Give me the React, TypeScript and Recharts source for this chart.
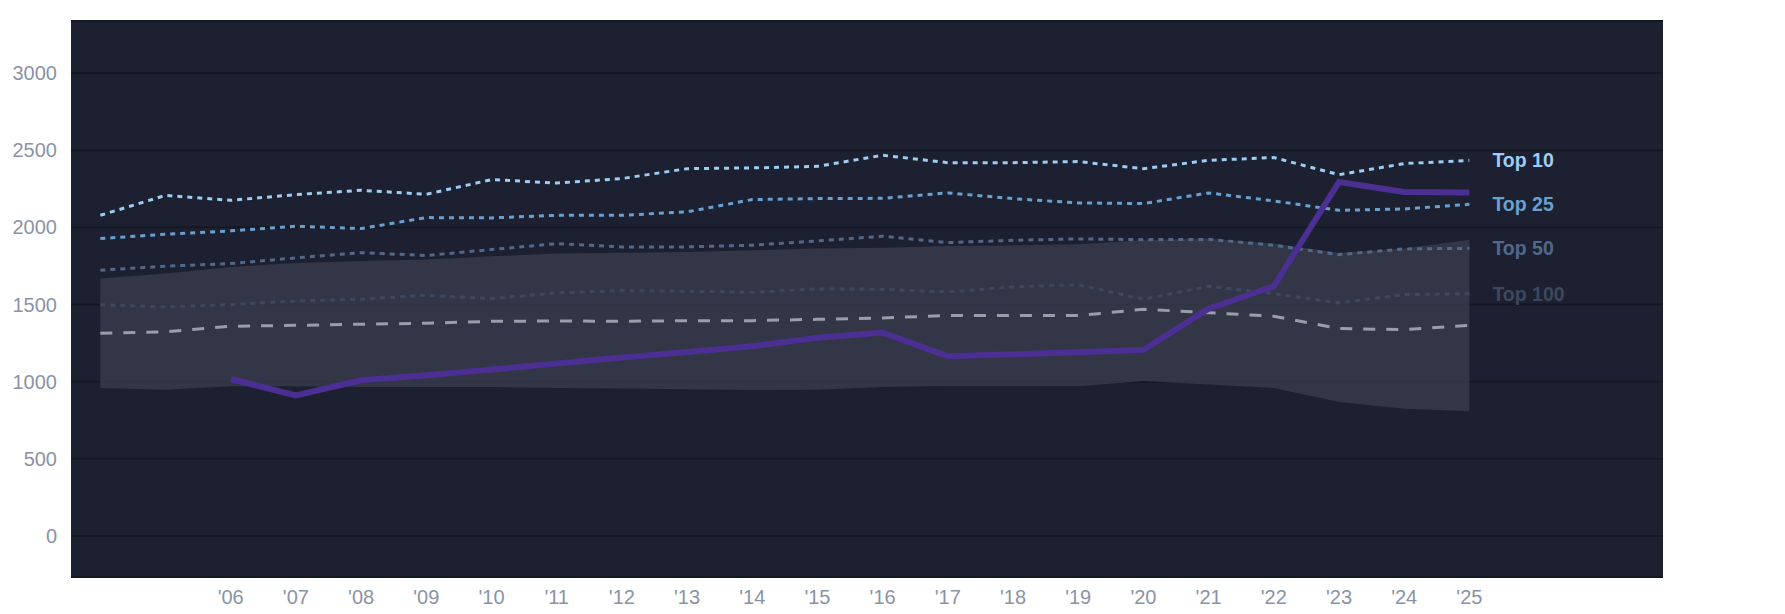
import {
  Area,
  CartesianGrid,
  ComposedChart,
  Line,
  XAxis,
  YAxis,
} from "recharts";

const YEARS = [
  2004, 2005, 2006, 2007, 2008, 2009, 2010, 2011, 2012, 2013, 2014, 2015,
  2016, 2017, 2018, 2019, 2020, 2021, 2022, 2023, 2024, 2025,
];

const TOP10 = [
  2078, 2207, 2175, 2212, 2240, 2214, 2309, 2287, 2316, 2380, 2385, 2395,
  2467, 2419, 2419, 2426, 2380, 2434, 2452, 2341, 2413, 2434,
];
const TOP25 = [
  1927, 1955, 1977, 2007, 1992, 2063, 2061, 2078, 2078, 2100, 2180, 2186,
  2188, 2223, 2186, 2158, 2154, 2223, 2171, 2110, 2119, 2149,
];
const TOP50 = [
  1722, 1748, 1765, 1802, 1836, 1817, 1856, 1894, 1873, 1873, 1884, 1912,
  1942, 1901, 1916, 1925, 1920, 1922, 1884, 1823, 1860, 1864,
];
const TOP100 = [
  1499, 1484, 1499, 1523, 1534, 1560, 1538, 1575, 1590, 1586, 1579, 1601,
  1599, 1581, 1614, 1628, 1534, 1618, 1570, 1510, 1564, 1570,
];
const MEDIAN = [
  1313, 1322, 1359, 1365, 1372, 1378, 1391, 1393, 1391, 1395, 1395, 1404,
  1413, 1428, 1428, 1428, 1469, 1447, 1424, 1344, 1337, 1365,
];
const TEAM = [
  null, null, 1017, 911, 1009, 1041, 1078, 1117, 1156, 1192, 1229, 1285,
  1318, 1164, 1177, 1190, 1207, 1473, 1618, 2294, 2229, 2225,
];
const BAND_HIGH = [
  1668, 1700, 1743, 1769, 1782, 1791, 1812, 1830, 1835, 1840, 1851, 1862,
  1868, 1879, 1883, 1890, 1916, 1927, 1895, 1835, 1862, 1920,
];
const BAND_LOW = [
  959, 948, 970, 970, 966, 966, 966, 959, 955, 950, 946, 948, 966, 972, 972,
  970, 1004, 981, 959, 868, 825, 808,
];

const X_TICKS = YEARS.filter((y) => y >= 2006);
const Y_TICKS = [0, 500, 1000, 1500, 2000, 2500, 3000];

const data = YEARS.map((year, i) => ({
  year,
  band: [BAND_LOW[i], BAND_HIGH[i]],
  top10: TOP10[i],
  top25: TOP25[i],
  top50: TOP50[i],
  top100: TOP100[i],
  median: MEDIAN[i],
  team: TEAM[i],
}));

const FONT = "'Liberation Sans', Arial, Helvetica, sans-serif";
const TICK_STYLE = { fill: "#8a93a6", fontSize: 20, fontFamily: FONT };

const C_TOP10 = "#9dcdf2";
const C_TOP25 = "#6aa0cf";
const C_TOP50 = "#516889";
const C_TOP100 = "#3d485e";

function endLabel(text: string, color: string) {
  const last = YEARS.length - 1;
  return (props: any) => {
    if (props.index !== last) return null;
    return (
      <text
        x={Number(props.x) + 23}
        y={Number(props.y)}
        dy="0.35em"
        fill={color}
        fontSize={19.5}
        fontWeight="bold"
        fontFamily={FONT}
      >
        {text}
      </text>
    );
  };
}

export default function App() {
  return (
    <div style={{ width: 1769, height: 604, fontFamily: FONT }}>
      <ComposedChart
        width={1769}
        height={604}
        data={data}
        margin={{ top: 13, right: 114, bottom: 6, left: 0 }}
      >
        <CartesianGrid
          vertical={false}
          fill="#1c2030"
          fillOpacity={1}
          stroke="#141823"
          strokeWidth={2}
        />
        <XAxis
          type="number"
          dataKey="year"
          domain={[2003.55, 2027.97]}
          ticks={X_TICKS}
          interval={0}
          allowDataOverflow
          axisLine={false}
          tickLine={false}
          tickMargin={7}
          height={29}
          tick={TICK_STYLE}
          tickFormatter={(y: number) => "'" + String(y).slice(2)}
        />
        <YAxis
          type="number"
          domain={[-266, 3337]}
          ticks={Y_TICKS}
          allowDataOverflow
          axisLine={false}
          tickLine={false}
          tickMargin={8}
          width={63}
          tick={TICK_STYLE}
        />
        <Area
          dataKey="band"
          type="linear"
          stroke="none"
          fill="#383c4e"
          fillOpacity={0.8}
          isAnimationActive={false}
        />
        <Line
          dataKey="median"
          type="linear"
          stroke="#9a9ea8"
          strokeWidth={3}
          strokeDasharray="12 11"
          dot={false}
          isAnimationActive={false}
        />
        <Line
          dataKey="top100"
          type="linear"
          stroke={C_TOP100}
          strokeWidth={3}
          strokeDasharray="5 5"
          dot={false}
          label={endLabel("Top 100", C_TOP100)}
          isAnimationActive={false}
        />
        <Line
          dataKey="top50"
          type="linear"
          stroke={C_TOP50}
          strokeWidth={3}
          strokeDasharray="5 5"
          dot={false}
          label={endLabel("Top 50", C_TOP50)}
          isAnimationActive={false}
        />
        <Line
          dataKey="top25"
          type="linear"
          stroke={C_TOP25}
          strokeWidth={3}
          strokeDasharray="5 5"
          dot={false}
          label={endLabel("Top 25", C_TOP25)}
          isAnimationActive={false}
        />
        <Line
          dataKey="top10"
          type="linear"
          stroke={C_TOP10}
          strokeWidth={3}
          strokeDasharray="5 5"
          dot={false}
          label={endLabel("Top 10", C_TOP10)}
          isAnimationActive={false}
        />
        <Line
          dataKey="team"
          type="linear"
          stroke="#4c2f93"
          strokeWidth={6}
          dot={false}
          isAnimationActive={false}
        />
      </ComposedChart>
    </div>
  );
}
